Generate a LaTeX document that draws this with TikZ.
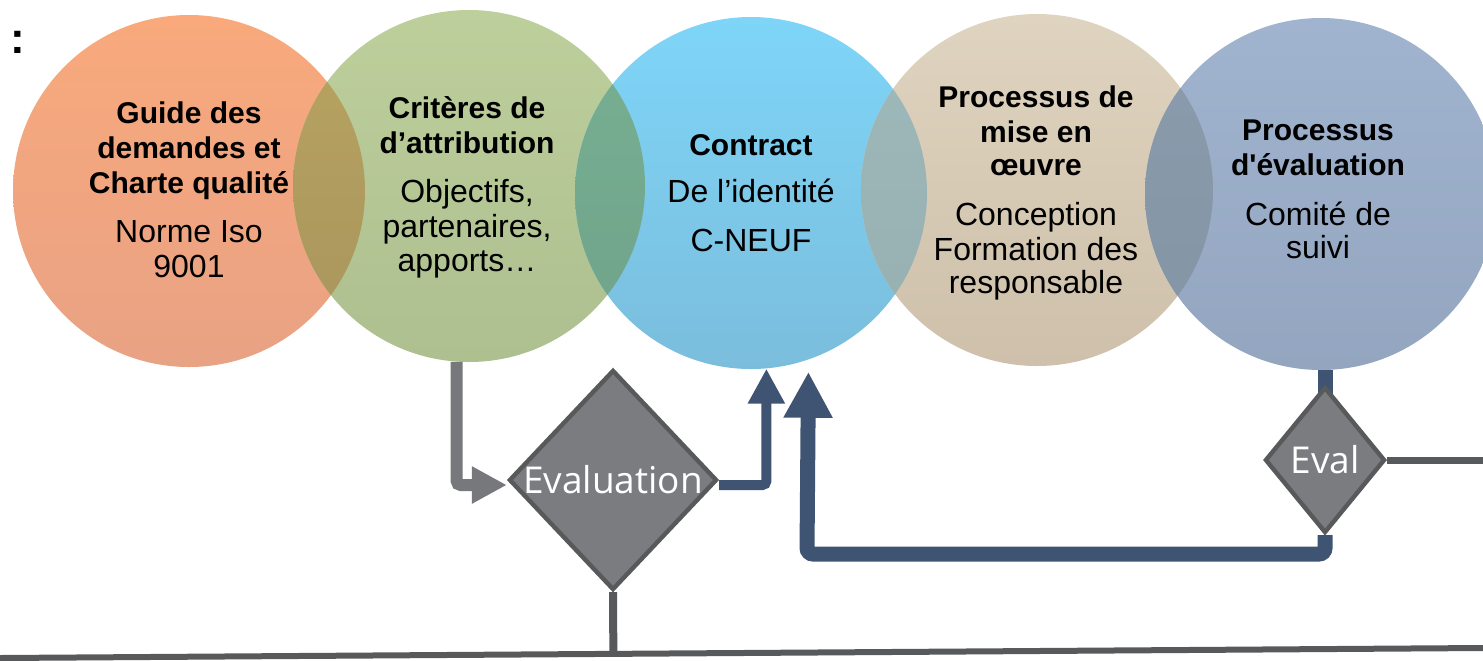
\documentclass[tikz,border=0pt]{standalone}
\usepackage{fontspec}
\setmainfont{Liberation Sans}[Ligatures=TeXOff]
\newfontfamily\diafont{Open Sans}
\usetikzlibrary{arrows.meta,shapes.geometric,calc}
\definecolor{oT}{HTML}{F9A97C}\definecolor{oB}{HTML}{E8A284}
\definecolor{gT}{HTML}{BDCF9B}\definecolor{gB}{HTML}{AEBF90}
\definecolor{bT}{HTML}{7ED5F8}\definecolor{bB}{HTML}{7BBDDC}
\definecolor{tT}{HTML}{DFD4C0}\definecolor{tB}{HTML}{CEC0AA}
\definecolor{sT}{HTML}{A1B4CF}\definecolor{sB}{HTML}{93A5BF}
\definecolor{x12T}{HTML}{B8A45F}\definecolor{x12B}{HTML}{A9945E}
\definecolor{x23T}{HTML}{78B092}\definecolor{x23B}{HTML}{6FA28A}
\definecolor{x34T}{HTML}{9FBABD}\definecolor{x34B}{HTML}{96AEAE}
\definecolor{x45T}{HTML}{8A9CAD}\definecolor{x45B}{HTML}{8394A4}
\definecolor{agray}{HTML}{77787B}
\definecolor{dgray}{HTML}{58595B}
\definecolor{dfill}{HTML}{7B7C80}
\definecolor{dblue}{HTML}{3E5472}
\tikzset{
  bubble/.style={circle, minimum size=176pt, inner sep=0pt, draw=none},
  tb/.style={anchor=base, inner sep=0pt, font=\fontsize{15}{17}\selectfont\bfseries},
  tr/.style={anchor=base, inner sep=0pt, font=\fontsize{16}{18}\selectfont},
  decision/.style={diamond, draw=dgray, line width=2.2pt, fill=dfill, inner sep=0pt,
    text=white, font=\diafont\fontsize{18.5}{20}\selectfont},
  grayarrow/.style={draw=agray, line width=6pt, rounded corners=2pt,
    -{Triangle[length=17.5pt,width=17.5pt]}},
  bluearrow/.style={draw=dblue, line width=5pt, rounded corners=2pt,
    -{Triangle[length=17.5pt,width=17.5pt]}},
  bigarrow/.style={draw=dblue, line width=7.5pt, rounded corners=3pt,
    -{Triangle[length=23pt,width=23pt]}},
  blueline/.style={draw=dblue, line width=7.5pt},
  darkline/.style={draw=dgray, line width=3.5pt},
}
\begin{document}
\begin{tikzpicture}[x=0.5pt,y=-0.5pt]
\useasboundingbox (0,0) rectangle (1483,660);
% circles
\node[bubble, top color=oT, bottom color=oB] (c1) at (189,191) {};
\node[bubble, top color=gT, bottom color=gB] (c2) at (469,186) {};
\node[bubble, top color=bT, bottom color=bB] (c3) at (751,193) {};
\node[bubble, top color=tT, bottom color=tB] (c4) at (1037,190) {};
\node[bubble, top color=sT, bottom color=sB] (c5) at (1321,194) {};
% overlaps
\begin{scope}
  \clip (c1.center) circle[radius=176];
  \shade[top color=x12T, bottom color=x12B] (c2.center) circle[radius=176];
\end{scope}
\begin{scope}
  \clip (c2.center) circle[radius=176];
  \shade[top color=x23T, bottom color=x23B] (c3.center) circle[radius=176];
\end{scope}
\begin{scope}
  \clip (c3.center) circle[radius=176];
  \shade[top color=x34T, bottom color=x34B] (c4.center) circle[radius=176];
\end{scope}
\begin{scope}
  \clip (c4.center) circle[radius=176];
  \shade[top color=x45T, bottom color=x45B] (c5.center) circle[radius=176];
\end{scope}
% colon
\node[anchor=base, inner sep=0pt, font=\fontsize{22}{24}\selectfont\bfseries] (colon) at (18,53) {:};
% texts circle 1
\node[tb] (t1a) at (189,123) {Guide des};
\node[tb] (t1b) at (189,158) {demandes et};
\node[tb] (t1c) at (189,193) {Charte qualité};
\node[tr] (t1d) at (189,242) {Norme Iso};
\node[tr] (t1e) at (189,277) {9001};
% circle 2
\node[tb] (t2a) at (467,118) {Critères de};
\node[tb] (t2b) at (467,153) {d’attribution};
\node[tr] (t2c) at (467,202) {Objectifs,};
\node[tr] (t2d) at (467,237) {partenaires,};
\node[tr] (t2e) at (467,271) {apports…};
% circle 3
\node[tb] (t3a) at (751,155) {Contract};
\node[tr] (t3b) at (751,202) {De l’identité};
\node[tr] (t3c) at (751,251) {C-NEUF};
% circle 4
\node[tb] (t4a) at (1036,107) {Processus de};
\node[tb] (t4b) at (1036,142) {mise en};
\node[tb] (t4c) at (1036,175) {œuvre};
\node[tr] (t4d) at (1036,225) {Conception};
\node[tr] (t4e) at (1036,260) {Formation des};
\node[tr] (t4f) at (1036,293) {responsable};
% circle 5
\node[tb] (t5a) at (1318,140) {Processus};
\node[tb] (t5b) at (1318,175) {d'évaluation};
\node[tr] (t5c) at (1318,225) {Comité de};
\node[tr] (t5d) at (1318,258) {suivi};
% coordinates
\coordinate (bL) at (0,658);
\coordinate (bR) at (1483,648);
\coordinate (rE) at (1483,460);
\coordinate (bend) at (807,554);
% connector under the small diamond
\draw[blueline] (c5.south -| 1325,0) -- (1325,420);
% diamonds
\node[decision, minimum width=104pt, minimum height=110pt] (ev) at (613,480) {\makebox[0pt]{Evaluation}};
\node[decision, minimum width=60pt, minimum height=73pt] (e2) at (1325,460) {\makebox[0pt]{Eval}};
% connectors
\draw[grayarrow] (c2.-94) |- ([yshift=-2.5pt]ev.west);
\draw[bluearrow] ([yshift=-2.5pt]ev.east) -| (c3.-85);
\draw[bigarrow] (e2.south) |- (bend) -- ([yshift=-6pt]c3.-71.4);
\draw[darkline] (e2.east) -- (rE);
\draw[draw=dgray, line width=4pt] (ev.south) -- ($(bL)!(ev.south)!(bR)$);
\draw[draw=dgray, line width=3pt] (bL) -- (bR);
\end{tikzpicture}
\end{document}
